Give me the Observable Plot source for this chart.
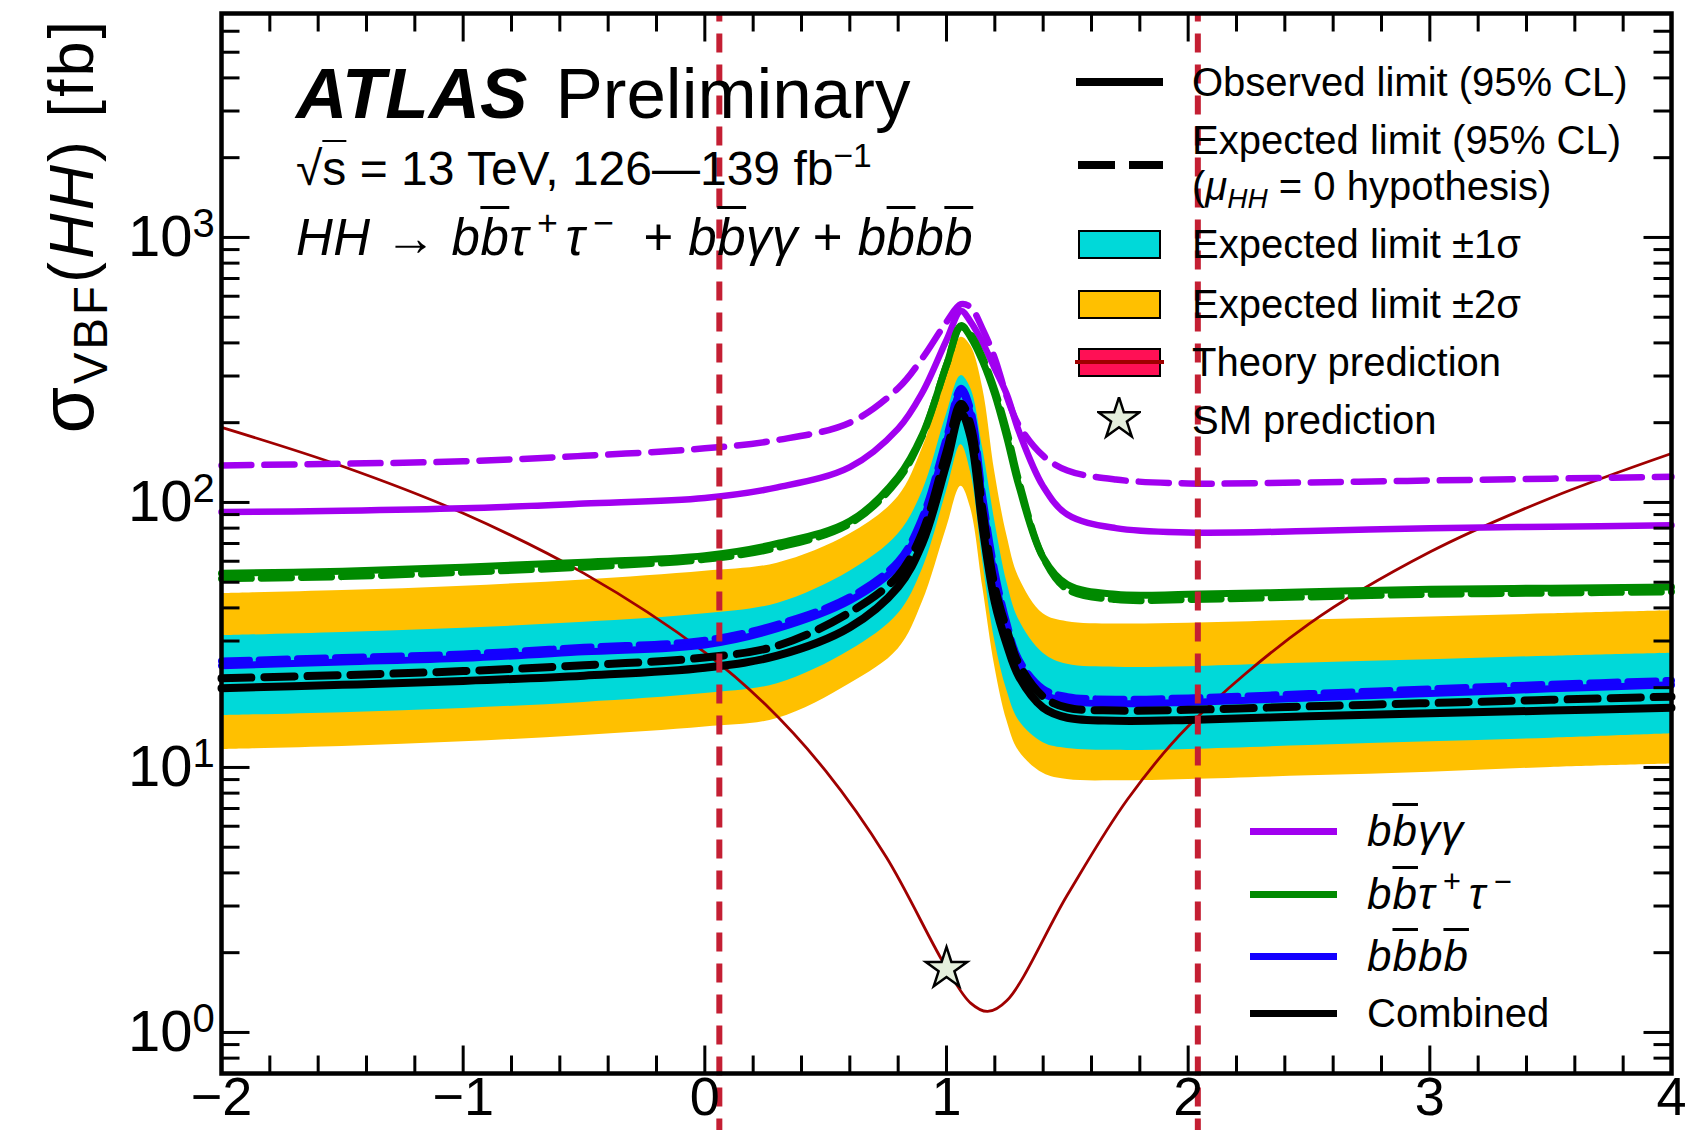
<!DOCTYPE html>
<html>
<head>
<meta charset="utf-8">
<script src="https://cdn.jsdelivr.net/npm/d3@7"></script>
<script src="https://cdn.jsdelivr.net/npm/@observablehq/plot@0.6"></script>
<style>
html,body{margin:0;padding:0;background:#fff;}
#wrap{position:relative;width:1687px;height:1130px;overflow:hidden;background:#fff;font-family:"Liberation Sans",Arial,Helvetica,sans-serif;color:#000;}
.t{position:absolute;white-space:nowrap;}
.ob{text-decoration:overline;text-decoration-thickness:0.06em;}
.sup{font-size:0.7em;position:relative;top:-0.55em;}
.sub{font-size:0.7em;position:relative;top:0.3em;}
.sw{position:absolute;box-sizing:border-box;}
</style>
</head>
<body>
<div id="wrap"></div>
<script>
// ---- data ----
const kappa2V = [-2, -1.5, -1, -0.5, 0, 0.3, 0.6, 0.8, 0.9, 1.0, 1.06, 1.1, 1.15, 1.2, 1.25, 1.3, 1.4, 1.5, 1.7, 2, 2.5, 3, 3.5, 4];
const combinedObserved = [19.9, 20.5, 21.2, 22.2, 23.8, 26.4, 33.8, 48, 70, 140, 218, 176, 80, 42, 29, 22, 16.8, 15.4, 15, 15.1, 15.6, 16, 16.4, 16.8];
const combinedExpected = [21.7, 22.3, 23.1, 24.3, 26, 28.8, 38.5, 53, 77, 155, 236, 195, 92, 48, 33, 24.5, 18.5, 16.8, 16.4, 16.5, 17, 17.5, 18, 18.5];
const expected1SigmaHigh = [31.4, 32.3, 33.5, 35.3, 38, 41.6, 55, 76, 110, 215, 301, 270, 160, 85, 50, 36, 27, 24.5, 23.9, 24, 24.8, 25.5, 26.3, 27];
const expected1SigmaLow = [15.7, 16.1, 16.7, 17.6, 19, 20.7, 27.6, 38, 56, 110, 165, 130, 60, 30, 19.5, 15, 12.4, 11.8, 11.6, 11.7, 12.1, 12.5, 12.9, 13.4];
const expected2SigmaHigh = [45.3, 46.5, 48.3, 51, 55, 59, 76, 105, 160, 300, 420, 390, 270, 130, 75, 52, 38, 35.5, 34.8, 35, 36, 37, 38, 39];
const expected2SigmaLow = [11.7, 12.0, 12.5, 13.2, 14.2, 15.3, 20.7, 28, 42, 80, 115, 95, 48, 24, 15, 11.5, 9.5, 9.0, 8.9, 9.0, 9.3, 9.6, 10, 10.3];
const bbyyObserved = [92, 93, 95, 99, 104, 114, 136, 190, 260, 410, 528, 480, 400, 320, 255, 185, 115, 90, 80, 77, 78, 80, 81, 82];
const bbyyExpected = [138, 140, 143, 150, 160, 172, 200, 270, 350, 480, 560, 545, 450, 350, 250, 195, 150, 132, 122, 118, 119, 121, 123, 125];
const bbttObserved = [54, 55, 57, 59.5, 63, 70, 85, 125, 180, 330, 465, 420, 340, 255, 175, 115, 62, 49, 45, 45, 46, 47, 47.5, 48];
const bbttExpected = [51.5, 52.5, 54.5, 57, 61, 67.5, 83, 122, 178, 330, 460, 430, 350, 265, 185, 120, 62, 47, 43, 43, 44, 45, 45.5, 46];
const bbbbObserved = [24.2, 25, 25.8, 27.3, 29, 33.4, 42.6, 58, 85, 170, 262, 215, 100, 52, 33, 24.5, 19, 17.8, 17.4, 17.6, 18.3, 19, 19.8, 20.5];
const bbbbExpected = [25.2, 26, 26.8, 28.4, 30.2, 34.7, 44, 60, 88, 176, 270, 224, 105, 55, 35, 25.5, 19.8, 18.5, 18.1, 18.3, 19, 19.8, 20.6, 21.3];

const theoryKappa = [-2, -1.5, -1, -0.5, 0, 0.25, 0.5, 0.75, 1, 1.1, 1.17, 1.25, 1.5, 1.75, 2, 2.5, 3, 3.5, 4];
const theoryXsec = [192, 137, 91, 54, 27.2, 17.3, 9.7, 4.6, 1.75, 1.29, 1.2, 1.32, 3.3, 7.6, 14.3, 34.8, 65, 104, 153];

const smKappa = [1];
const smXsec = [1.74];
const allowedKappa = [0.06, 2.04];

const xMajor = [-2, -1, 0, 1, 2, 3, 4];
const xTickLabels = ["\u22122", "\u22121", "0", "1", "2", "3", "4"];
const xMinor = [-1.8,-1.6,-1.4,-1.2,-0.8,-0.6,-0.4,-0.2,0.2,0.4,0.6,0.8,1.2,1.4,1.6,1.8,2.2,2.4,2.6,2.8,3.2,3.4,3.6,3.8];
const yMajor = [1, 10, 100, 1000];
const yExponents = ["0", "1", "2", "3"];
const yMinor = [0.8,0.9,2,3,4,5,6,7,8,9,20,30,40,50,60,70,80,90,200,300,400,500,600,700,800,900,2000,3000,4000,5000,6000];

// ---- colours ----
const cPurple = "#a100f0", cGreen = "#008a00", cBlue = "#1400ff", cCyan = "#00d9d9", cOrange = "#ffc000";
const cTheory = "#a00000", cTheoryBand = "#ff1055", cLimit = "#c41f33";

const rows = kappa2V.map((k, i) => ({
  k,
  obs: combinedObserved[i], exp: combinedExpected[i],
  lo1: expected1SigmaLow[i], hi1: expected1SigmaHigh[i],
  lo2: expected2SigmaLow[i], hi2: expected2SigmaHigh[i],
  yyO: bbyyObserved[i], yyE: bbyyExpected[i],
  ttO: bbttObserved[i], ttE: bbttExpected[i],
  bbO: bbbbObserved[i], bbE: bbbbExpected[i]
}));
const theoryRows = theoryKappa.map((k, i) => ({k, v: theoryXsec[i]}));
const smRows = smKappa.map((k, i) => ({k, v: smXsec[i]}));

const curve = "catmull-rom";
const tickShape = {draw(ctx, l) { ctx.moveTo(0, 0); ctx.lineTo(0, -l); }};
const tk = {shape: tickShape, anchor: "start", stroke: "black", strokeWidth: 3, strokeLinecap: "butt"};

const chart = Plot.plot({
  width: 1687, height: 1130,
  marginLeft: 221, marginRight: 16, marginTop: 13, marginBottom: 57,
  x: {domain: [-2, 4], axis: null},
  y: {type: "log", domain: [0.7, 7000], axis: null},
  style: {fontFamily: "'Liberation Sans', Arial, Helvetica, sans-serif", background: "white", overflow: "visible"},
  marks: [
    Plot.areaY(rows, {x: "k", y1: "lo2", y2: "hi2", fill: cOrange, curve}),
    Plot.areaY(rows, {x: "k", y1: "lo1", y2: "hi1", fill: cCyan, curve}),
    Plot.line(theoryRows, {x: "k", y: "v", stroke: cTheory, strokeWidth: 2.8, curve}),
    Plot.line(rows, {x: "k", y: "yyE", stroke: cPurple, strokeWidth: 6.5, strokeDasharray: "30,13", curve}),
    Plot.line(rows, {x: "k", y: "yyO", stroke: cPurple, strokeWidth: 6.5, curve}),
    Plot.line(rows, {x: "k", y: "ttE", stroke: cGreen, strokeWidth: 7, strokeDasharray: "30,10", curve}),
    Plot.line(rows, {x: "k", y: "ttO", stroke: cGreen, strokeWidth: 7, curve}),
    Plot.line(rows, {x: "k", y: "bbE", stroke: cBlue, strokeWidth: 7, strokeDasharray: "28,10", curve}),
    Plot.line(rows, {x: "k", y: "bbO", stroke: cBlue, strokeWidth: 7, curve}),
    Plot.line(rows, {x: "k", y: "exp", stroke: "black", strokeWidth: 8, strokeDasharray: "30,13", curve}),
    Plot.line(rows, {x: "k", y: "obs", stroke: "black", strokeWidth: 8, curve}),
    Plot.ruleX(allowedKappa, {x: d => d, y1: 0.4, y2: 7000, stroke: cLimit, strokeWidth: 6, strokeDasharray: "19,12"}),
    Plot.dot(smRows, {x: "k", y: "v", symbol: "star", r: 13, fill: "#e4efdc", stroke: "black", strokeWidth: 2.5}),
    // ticks (inward, mirrored)
    Plot.vector(xMajor, {x: d => d, frameAnchor: "bottom", rotate: 0, length: 28, ...tk}),
    Plot.vector(xMinor, {x: d => d, frameAnchor: "bottom", rotate: 0, length: 18, ...tk}),
    Plot.vector(xMajor, {x: d => d, frameAnchor: "top", rotate: 180, length: 28, ...tk}),
    Plot.vector(xMinor, {x: d => d, frameAnchor: "top", rotate: 180, length: 18, ...tk}),
    Plot.vector(yMajor, {y: d => d, frameAnchor: "left", rotate: 90, length: 28, ...tk}),
    Plot.vector(yMinor, {y: d => d, frameAnchor: "left", rotate: 90, length: 18, ...tk}),
    Plot.vector(yMajor, {y: d => d, frameAnchor: "right", rotate: -90, length: 28, ...tk}),
    Plot.vector(yMinor, {y: d => d, frameAnchor: "right", rotate: -90, length: 18, ...tk}),
    Plot.frame({stroke: "black", strokeWidth: 4.5}),
    // tick labels
    Plot.text(yMajor, {y: d => d, frameAnchor: "left", text: d => "10", textAnchor: "end", dx: -29, fontSize: 58}),
    Plot.text(yMajor, {y: d => d, frameAnchor: "left", text: (d, i) => yExponents[i], textAnchor: "start", dx: -29, dy: -13, fontSize: 40}),
    Plot.text(xMajor, {x: d => d, frameAnchor: "bottom", text: (d, i) => xTickLabels[i], lineAnchor: "top", dy: 3, fontSize: 54})
  ]
});

const wrap = document.getElementById("wrap");
chart.style.position = "absolute";
chart.style.left = "0px";
chart.style.top = "0px";
wrap.appendChild(chart);

function addText(html, left, cy, size, extra = "") {
  const d = document.createElement("div");
  d.className = "t";
  d.style.cssText = `left:${left}px;top:${cy - size / 2}px;font-size:${size}px;line-height:${size}px;${extra}`;
  d.innerHTML = html;
  wrap.appendChild(d);
  return d;
}
function addSwatch(left, top, w, h, css) {
  const d = document.createElement("div");
  d.className = "sw";
  d.style.cssText = `left:${left}px;top:${top}px;width:${w}px;height:${h}px;${css}`;
  wrap.appendChild(d);
  return d;
}

// y-axis title (rotated)
const yt = document.createElement("div");
yt.className = "t";
yt.style.cssText = "left:36px;top:718px;width:700px;text-align:right;font-size:63px;line-height:63px;letter-spacing:3px;transform:rotate(-90deg);transform-origin:0 0;";
yt.innerHTML = '<span style="font-size:1.2em">σ</span><span class="sub" style="font-size:0.75em">VBF</span>(<i>HH</i>)&nbsp;[fb]';
wrap.appendChild(yt);

// ATLAS label block
addText('<b><i>ATLAS</i></b><span style="margin-left:28px">Preliminary</span>', 296, 93, 71);
addText('√<span style="text-decoration:overline;text-decoration-thickness:0.05em">s</span> = 13 TeV, 126—139 fb<span class="sup">−1</span>', 296, 169, 48);
addText('<i>HH</i> → <i>b<span class="ob">b</span>τ<span class="sup">&thinsp;+&thinsp;</span>τ<span class="sup">&thinsp;−</span></i>&nbsp;&nbsp;+ <i>b<span class="ob">b</span>γγ</i> + <i>b<span class="ob">b</span>b<span class="ob">b</span></i>', 296, 237, 51, "letter-spacing:0.5px;");

// upper-right legend
const LX = 1192, FS = 40;
addSwatch(1076, 78, 87, 8, "background:#000;");
addText("Observed limit (95% CL)", LX, 82, FS);
addSwatch(1078, 161, 37, 8, "background:#000;");
addSwatch(1129, 161, 34, 8, "background:#000;");
addText("Expected limit (95% CL)", LX, 140, FS);
addText('(<i>μ</i><span class="sub"><i>HH</i></span> = 0 hypothesis)', LX, 186, FS);
addSwatch(1078, 230, 83, 29, `background:${cCyan};border:2px solid #000;`);
addText("Expected limit ±1σ", LX, 244, FS);
addSwatch(1078, 290, 83, 29, `background:${cOrange};border:2px solid #000;`);
addText("Expected limit ±2σ", LX, 304, FS);
addSwatch(1078, 348, 83, 29, `background:${cTheoryBand};border:2px solid #000;`);
addSwatch(1075, 360, 89, 4, `background:${cTheory};`);
addText("Theory prediction", LX, 362, FS);
const starDiv = addSwatch(1097, 397, 44, 44, "");
starDiv.innerHTML = `<svg width="44" height="44" viewBox="-22 -22 44 44"><path d="${d3.symbol(d3.symbolStar, Math.PI * 169)()}" fill="#e4efdc" stroke="#000" stroke-width="2.5"/></svg>`;
addText("SM prediction", LX, 420, FS);

// lower-right legend (channels)
const LX2 = 1367;
const chan = [
  {c: cPurple, y: 831, size: 44, ls: 1, html: '<i>b<span class="ob">b</span>γγ</i>'},
  {c: cGreen, y: 894, size: 44, ls: 1, html: '<i>b<span class="ob">b</span>τ<span class="sup">&thinsp;+&thinsp;</span>τ<span class="sup">&thinsp;−</span></i>'},
  {c: cBlue, y: 956, size: 44, ls: 1, html: '<i>b<span class="ob">b</span>b<span class="ob">b</span></i>'},
  {c: "#000", y: 1013, size: 40, ls: 0, html: 'Combined'}
];
chan.forEach(e => {
  addSwatch(1250, e.y - 3.5, 87, 7, `background:${e.c};`);
  addText(e.html, LX2, e.y, e.size, `letter-spacing:${e.ls}px;`);
});
</script>
</body>
</html>
